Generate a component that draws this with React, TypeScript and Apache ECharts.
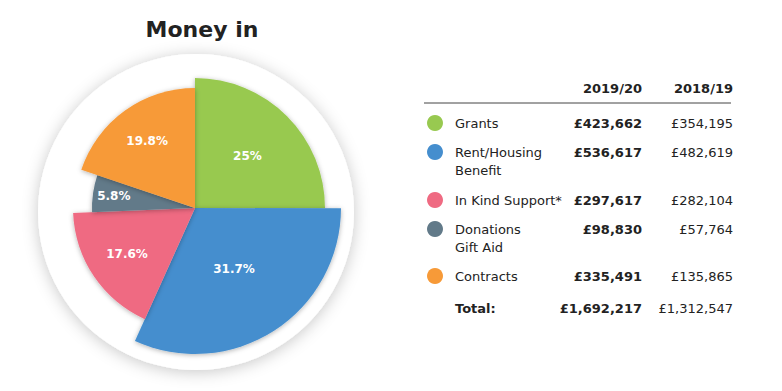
import React, { useEffect, useRef } from "react";
import * as echarts from "echarts";

const categories = ["Grants", "Rent/Housing\nBenefit", "In Kind Support*", "Donations\nGift Aid", "Contracts"];
const values2019 = [423662, 536617, 297617, 98830, 335491];
const values2018 = [354195, 482619, 282104, 57764, 135865];
const yearLabels = ["2019/20", "2018/19"];
const totalLabel = "Total:";
const titleText = "Money in";
const colors = ["#98C950", "#458ECE", "#EF6A82", "#627A89", "#F79A38"];

// layout constants
const pieCenter = [195, 208];
const sliceRadius = [130, 146, 122, 103, 120];
const labelDist = [71, 69, 79, 79, 79];
const rowY = [123, 152, 200, 229, 276];
const totalY = 308;
const FONT = "DejaVu Sans";

const fmt = (v: number) => "£" + String(v).replace(/\B(?=(\d{3})+(?!\d))/g, ",");

export default function App() {
  const ref = useRef<HTMLDivElement>(null);
  useEffect(() => {
    document.body.style.margin = "0";
    const chart = echarts.init(ref.current!, null, { renderer: "svg" });
    const total = values2019.reduce((a, b) => a + b, 0);
    const total18 = values2018.reduce((a, b) => a + b, 0);
    const pct = (v: number) => parseFloat(((v / total) * 100).toFixed(1)) + "%";

    const sliceSeries = categories.map((_, i) => ({
      type: "pie",
      center: pieCenter,
      radius: [0, sliceRadius[i]],
      startAngle: 90,
      silent: true,
      z: 3,
      label: { show: false },
      labelLine: { show: false },
      data: values2019.map((v, j) => ({
        value: v,
        name: categories[j],
        itemStyle:
          j === i
            ? { color: colors[j], shadowBlur: 5, shadowColor: "rgba(0,0,0,0.3)", shadowOffsetY: 1 }
            : { color: "rgba(0,0,0,0)", shadowBlur: 0 },
      })),
    }));

    const labelSeries = categories.map((_, i) => ({
      type: "pie",
      center: pieCenter,
      radius: [0, labelDist[i] * 2],
      startAngle: 90,
      silent: true,
      z: 5,
      labelLine: { show: false },
      data: values2019.map((v, j) => ({
        value: v,
        name: categories[j],
        itemStyle: { color: "rgba(0,0,0,0)" },
        label: {
          show: j === i,
          position: "inside",
          formatter: () => pct(v),
          color: "#fff",
          fontFamily: FONT,
          fontWeight: "bold",
          fontSize: 12,
        },
      })),
    }));

    const graphics: any[] = [
      {
        type: "circle",
        z: 0,
        shape: { cx: 196, cy: 212, r: 158 },
        style: { fill: "#fff", shadowBlur: 16, shadowColor: "rgba(0,0,0,0.22)", shadowOffsetY: 2 },
      },
      {
        type: "text",
        x: 202,
        y: 29,
        style: {
          text: titleText,
          fill: "#222",
          font: `bold 22px "${FONT}"`,
          align: "center",
          verticalAlign: "middle",
        },
      },
      {
        type: "text",
        x: 642,
        y: 88,
        style: { text: yearLabels[0], fill: "#222", font: `bold 13px "${FONT}"`, align: "right", verticalAlign: "middle" },
      },
      {
        type: "text",
        x: 733,
        y: 88,
        style: { text: yearLabels[1], fill: "#222", font: `bold 13px "${FONT}"`, align: "right", verticalAlign: "middle" },
      },
      {
        type: "line",
        shape: { x1: 424, y1: 103, x2: 731, y2: 103 },
        style: { stroke: "#444", lineWidth: 1 },
      },
    ];

    categories.forEach((c, i) => {
      const y = rowY[i];
      graphics.push({
        type: "circle",
        shape: { cx: 435, cy: y, r: 8 },
        style: { fill: colors[i] },
      });
      graphics.push({
        type: "text",
        x: 455,
        y: y - 9,
        style: { text: c, fill: "#222", font: `13px "${FONT}"`, lineHeight: 18, align: "left", verticalAlign: "top" },
      });
      graphics.push({
        type: "text",
        x: 642,
        y,
        style: { text: fmt(values2019[i]), fill: "#222", font: `bold 13px "${FONT}"`, align: "right", verticalAlign: "middle" },
      });
      graphics.push({
        type: "text",
        x: 733,
        y,
        style: { text: fmt(values2018[i]), fill: "#222", font: `13px "${FONT}"`, align: "right", verticalAlign: "middle" },
      });
    });

    graphics.push({
      type: "text",
      x: 455,
      y: totalY,
      style: { text: totalLabel, fill: "#222", font: `bold 13px "${FONT}"`, align: "left", verticalAlign: "middle" },
    });
    graphics.push({
      type: "text",
      x: 642,
      y: totalY,
      style: { text: fmt(total), fill: "#222", font: `bold 13px "${FONT}"`, align: "right", verticalAlign: "middle" },
    });
    graphics.push({
      type: "text",
      x: 733,
      y: totalY,
      style: { text: fmt(total18), fill: "#222", font: `13px "${FONT}"`, align: "right", verticalAlign: "middle" },
    });

    chart.setOption({
      animation: false,
      backgroundColor: "#fff",
      graphic: { elements: graphics },
      series: [...sliceSeries, ...labelSeries],
    } as any);
    return () => chart.dispose();
  }, []);
  return <div ref={ref} style={{ width: 782, height: 391 }} />;
}
